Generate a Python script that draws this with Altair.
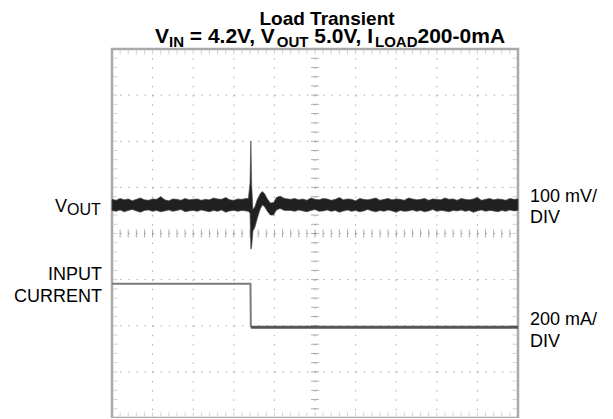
import altair as alt
import pandas as pd

# ---------------- data (in scope divisions: x 0..10, y 0..8) ----------------
vout_t = [0.0, 0.1, 0.2, 0.3, 0.4, 0.5, 0.6, 0.7, 0.8, 0.9,
          1.0, 1.1, 1.2, 1.3, 1.4, 1.5, 1.6, 1.7, 1.8, 1.9,
          2.0, 2.1, 2.2, 2.3, 2.4, 2.5, 2.6, 2.7, 2.8, 2.9,
          3.0, 3.1, 3.2, 3.3,
          3.36, 3.40, 3.42, 3.44, 3.47, 3.52, 3.58, 3.65, 3.70, 3.76,
          3.82, 3.90, 3.98, 4.05, 4.14, 4.25,
          4.4, 4.5, 4.6, 4.7, 4.8, 4.9, 5.0, 5.1, 5.2, 5.3,
          5.4, 5.5, 5.6, 5.7, 5.8, 5.9, 6.0, 6.1, 6.2, 6.3,
          6.4, 6.5, 6.6, 6.7, 6.8, 6.9, 7.0, 7.1, 7.2, 7.3,
          7.4, 7.5, 7.6, 7.7, 7.8, 7.9, 8.0, 8.1, 8.2, 8.3,
          8.4, 8.5, 8.6, 8.7, 8.8, 8.9, 9.0, 9.1, 9.2, 9.3,
          9.4, 9.5, 9.6, 9.7, 9.8, 9.9, 10.0]
vout_hi = [4.74, 4.72, 4.76, 4.73, 4.75, 4.71, 4.74, 4.77, 4.73, 4.72,
           4.75, 4.74, 4.80, 4.73, 4.71, 4.75, 4.74, 4.72, 4.76, 4.73,
           4.74, 4.75, 4.72, 4.74, 4.73, 4.77, 4.75, 4.74, 4.78, 4.73,
           4.72, 4.75, 4.74, 4.76,
           4.76, 5.10, 6.00, 5.05, 4.52, 4.58, 4.74, 4.86, 4.91, 4.86,
           4.76, 4.66, 4.67, 4.78, 4.81, 4.76,
           4.74, 4.76, 4.73, 4.75, 4.72, 4.77, 4.74, 4.73, 4.76, 4.75,
           4.72, 4.74, 4.78, 4.73, 4.75, 4.74, 4.71, 4.76, 4.74, 4.73,
           4.75, 4.77, 4.72, 4.74, 4.76, 4.73, 4.75, 4.74, 4.72, 4.77,
           4.75, 4.73, 4.74, 4.76, 4.72, 4.75, 4.74, 4.73, 4.77, 4.74,
           4.75, 4.72, 4.76, 4.74, 4.73, 4.75, 4.78, 4.72, 4.74, 4.76,
           4.73, 4.75, 4.74, 4.72, 4.76, 4.74, 4.75]
vout_lo = [4.50, 4.48, 4.51, 4.47, 4.50, 4.52, 4.49, 4.46, 4.50, 4.51,
           4.48, 4.50, 4.47, 4.49, 4.51, 4.48, 4.50, 4.52, 4.47, 4.49,
           4.50, 4.48, 4.51, 4.49, 4.47, 4.50, 4.48, 4.51, 4.46, 4.49,
           4.50, 4.48, 4.50, 4.49,
           4.48, 4.44, 3.66, 3.72, 4.05, 4.14, 4.33, 4.53, 4.62, 4.58,
           4.49, 4.40, 4.40, 4.51, 4.54, 4.50,
           4.50, 4.48, 4.51, 4.49, 4.47, 4.50, 4.52, 4.48, 4.49, 4.51,
           4.48, 4.50, 4.46, 4.49, 4.51, 4.48, 4.50, 4.47, 4.49, 4.52,
           4.49, 4.47, 4.50, 4.48, 4.51, 4.49, 4.46, 4.50, 4.48, 4.49,
           4.51, 4.48, 4.50, 4.47, 4.49, 4.52, 4.48, 4.50, 4.49, 4.47,
           4.50, 4.49, 4.51, 4.48, 4.50, 4.46, 4.49, 4.51, 4.48, 4.50,
           4.49, 4.47, 4.50, 4.48, 4.51, 4.49, 4.50]

cur_t = [0.0, 3.41, 3.42, 10.0]
cur_i = [2.91, 2.91, 1.97, 1.97]

# ---------------- layout ----------------
W, H = 406, 369          # plot (graticule) size
X0, Y0 = 112, 49         # page position of graticule top-left
FONT = "Liberation Sans"

xs = alt.Scale(domain=[0, 10], nice=False, zero=False)
ys = alt.Scale(domain=[0, 8], nice=False, zero=False)


def X(f):
    return alt.X(f, type="quantitative", scale=xs, axis=None)


def Y(f):
    return alt.Y(f, type="quantitative", scale=ys, axis=None)


vdf = pd.DataFrame({"t": vout_t, "hi": vout_hi, "lo": vout_lo})
cdf = pd.DataFrame({"t": cur_t, "i": cur_i})

grid_h = pd.DataFrame({"y": [1, 2, 3, 4, 5, 6, 7]})
grid_v = pd.DataFrame({"x": [1, 2, 3, 4, 5, 6, 7, 8, 9]})
minor_y = pd.DataFrame({"y": [k / 5 for k in range(1, 40)]})
minor_x = pd.DataFrame({"x": [k / 5 for k in range(1, 50)]})

GRID = "#a8a8a8"

layers = []
layers.append(alt.Chart(grid_h).mark_rule(color=GRID, strokeWidth=1, strokeDash=[1.5, 6.62]).encode(
    y=Y("y"), x=alt.value(0), x2=alt.value(W)))
layers.append(alt.Chart(grid_v).mark_rule(color=GRID, strokeWidth=1, strokeDash=[1.5, 7.72]).encode(
    x=X("x"), y=alt.value(0), y2=alt.value(H)))
# centre cross ticks
layers.append(alt.Chart(minor_y).mark_tick(color="#8a8a8a", orient="horizontal", size=8, thickness=1).encode(
    y=Y("y"), x=X("c")).transform_calculate(c="5"))
layers.append(alt.Chart(minor_x).mark_tick(color="#8a8a8a", orient="vertical", size=8, thickness=1).encode(
    x=X("x"), y=Y("c")).transform_calculate(c="4"))
# edge ticks
layers.append(alt.Chart(minor_y).mark_tick(color="#c0c0c0", orient="horizontal", size=5, thickness=1, xOffset=3).encode(
    y=Y("y"), x=alt.value(0)))
layers.append(alt.Chart(minor_y).mark_tick(color="#c0c0c0", orient="horizontal", size=5, thickness=1, xOffset=-3).encode(
    y=Y("y"), x=alt.value(W)))
layers.append(alt.Chart(minor_x).mark_tick(color="#c0c0c0", orient="vertical", size=5, thickness=1, yOffset=3).encode(
    x=X("x"), y=alt.value(0)))
layers.append(alt.Chart(minor_x).mark_tick(color="#c0c0c0", orient="vertical", size=5, thickness=1, yOffset=-3).encode(
    x=X("x"), y=alt.value(H)))

# traces
layers.append(alt.Chart(cdf).transform_filter("datum.t <= 3.42").mark_line(
    color="#7a7a7a", strokeWidth=2).encode(x=X("t"), y=Y("i")))
layers.append(alt.Chart(cdf).transform_filter("datum.t >= 3.42").mark_line(
    color="#555555", strokeWidth=3).encode(x=X("t"), y=Y("i")))
layers.append(alt.Chart(vdf).mark_area(color="#202020", stroke="#4a4a4a", strokeWidth=0.7).encode(
    x=X("t"), y=Y("lo"), y2=alt.Y2("hi")))

one = pd.DataFrame({"a": [0]})


def txt(s, px, py, size, bold=False, align="left"):
    return alt.Chart(one).mark_text(
        text=s, font=FONT, fontSize=size, fontWeight="bold" if bold else "normal",
        align=align, baseline="alphabetic", color="#000000"
    ).encode(x=alt.value(px - X0), y=alt.value(py - Y0))


# title
F, S = 21, 15
L2 = 43
layers.append(txt("Load Transient", 327, 25.3, 19, True, "center"))
layers.append(txt("V", 155, L2, F, True))
layers.append(txt("IN", 169, L2 + 3.5, S, True))
layers.append(txt("= 4.2V, V", 189.8, L2, F, True))
layers.append(txt("OUT", 276.8, L2 + 3.5, S, True))
layers.append(txt("5.0V, I", 314.3, L2, F, True))
layers.append(txt("LOAD", 375, L2 + 3.5, S, True))
layers.append(txt("200-0mA", 417.5, L2, F, True))

# left labels
layers.append(txt("V", 55, 212, 18))
layers.append(txt("OUT", 67, 215, 16))
layers.append(txt("INPUT", 102, 280, 18, align="right"))
layers.append(txt("CURRENT", 102, 301.5, 18, align="right"))
# right labels
layers.append(txt("100 mV/", 530, 201.7, 18))
layers.append(txt("DIV", 530, 223, 18))
layers.append(txt("200 mA/", 530, 325, 18))
layers.append(txt("DIV", 530, 346.7, 18))

chart = alt.layer(*layers).properties(
    width=W, height=H,
    autosize=alt.AutoSizeParams(type="none"),
    padding={"left": X0 - 8, "top": Y0 - 8, "right": 613 - 16 - (X0 - 8) - W, "bottom": 0},
    background="white",
).configure_view(stroke="#aaaaaa", strokeWidth=2.5)

chart.save("out.html", embed_options={"renderer": "svg", "actions": False})
